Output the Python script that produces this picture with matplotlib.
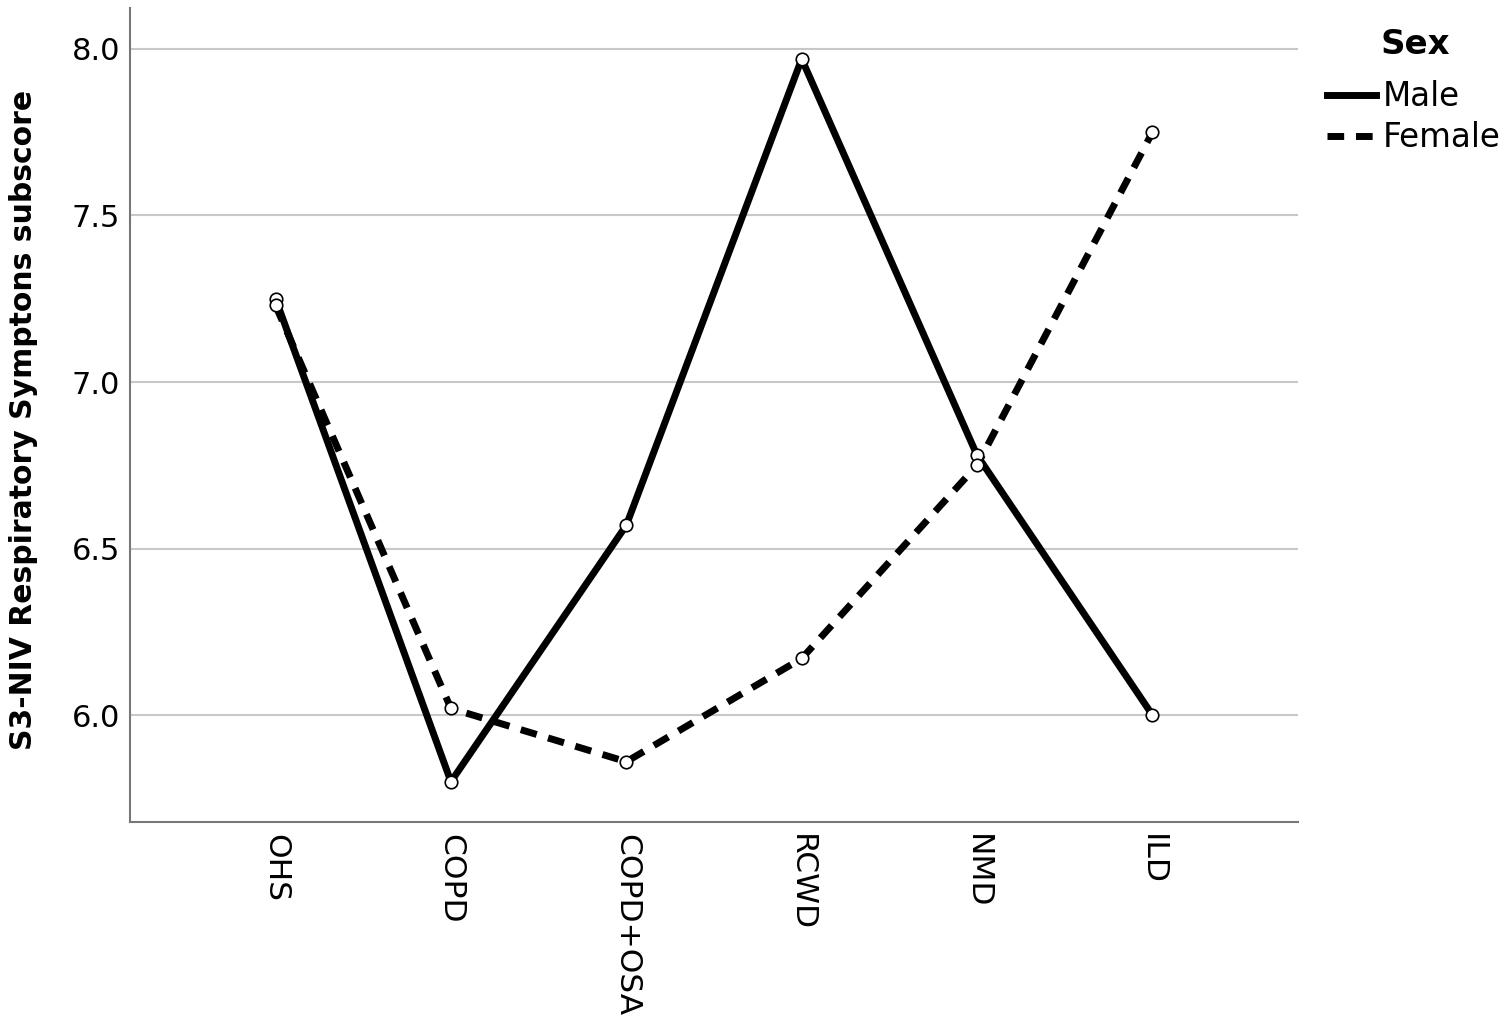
import matplotlib
matplotlib.use("Agg")
import matplotlib.pyplot as plt
from matplotlib.lines import Line2D

categories = ["OHS", "COPD", "COPD+OSA", "RCWD", "NMD", "ILD"]
male = [7.25, 5.80, 6.57, 7.97, 6.78, 6.00]
female = [7.23, 6.02, 5.86, 6.17, 6.75, 7.75]
yticks = [6.0, 6.5, 7.0, 7.5, 8.0]

plt.rcParams['font.family'] = ['DejaVu Sans']

fig = plt.figure(figsize=(15.08, 10.23), dpi=100)
ax = fig.add_axes([130/1508, 1-822/1023, (1298-130)/1508, (822-8)/1023])

dash = (0, (2.4, 1.7))
x = list(range(len(categories)))
ax.plot(x, male, color='black', lw=5, solid_capstyle='butt', zorder=3)
ax.plot(x, female, color='black', lw=5, ls=dash, zorder=3)
ax.plot(x, male, ls='none', marker='o', ms=9, mfc='white', mec='black', mew=1.2, zorder=4)
ax.plot(x, female, ls='none', marker='o', ms=9, mfc='white', mec='black', mew=1.2, zorder=4)

ax.set_xlim(-0.83, 5.83)
ax.set_ylim(5.679, 8.123)
ax.set_yticks(yticks)
ax.set_yticklabels([f"{v:.1f}" for v in yticks], fontsize=22)
ax.set_xticks(x)
ax.set_xticklabels(categories, rotation=270, fontsize=22.5, va='top', ha='center')
ax.tick_params(axis='x', length=0, pad=9)
ax.tick_params(axis='y', length=0, pad=7)
ax.grid(axis='y', color='#c8c8c8', lw=1.5)
ax.set_axisbelow(True)
for s in ['top', 'right']:
    ax.spines[s].set_visible(False)
for s in ['left', 'bottom']:
    ax.spines[s].set_color('#777777')
    ax.spines[s].set_linewidth(1.5)
ax.set_ylabel("S3-NIV Respiratory Symptons subscore", fontsize=21.5, fontweight='bold')
ax.yaxis.set_label_coords((38-130)/1168, 0.494)

fig.text(1415/1508, 1-45/1023, "Sex", fontsize=24.5, fontweight='bold', ha='center', va='center')
handles = [Line2D([], [], color='black', lw=5),
           Line2D([], [], color='black', lw=5, ls=dash)]
leg = fig.legend(handles, ["Male", "Female"], loc='upper left', bbox_to_anchor=(1327/1508, 1-80/1023),
                 frameon=False, fontsize=23.5, handlelength=1.5, handletextpad=0.2,
                 labelspacing=0.25, borderaxespad=0, borderpad=0)

fig.savefig("out.png", dpi=100)
